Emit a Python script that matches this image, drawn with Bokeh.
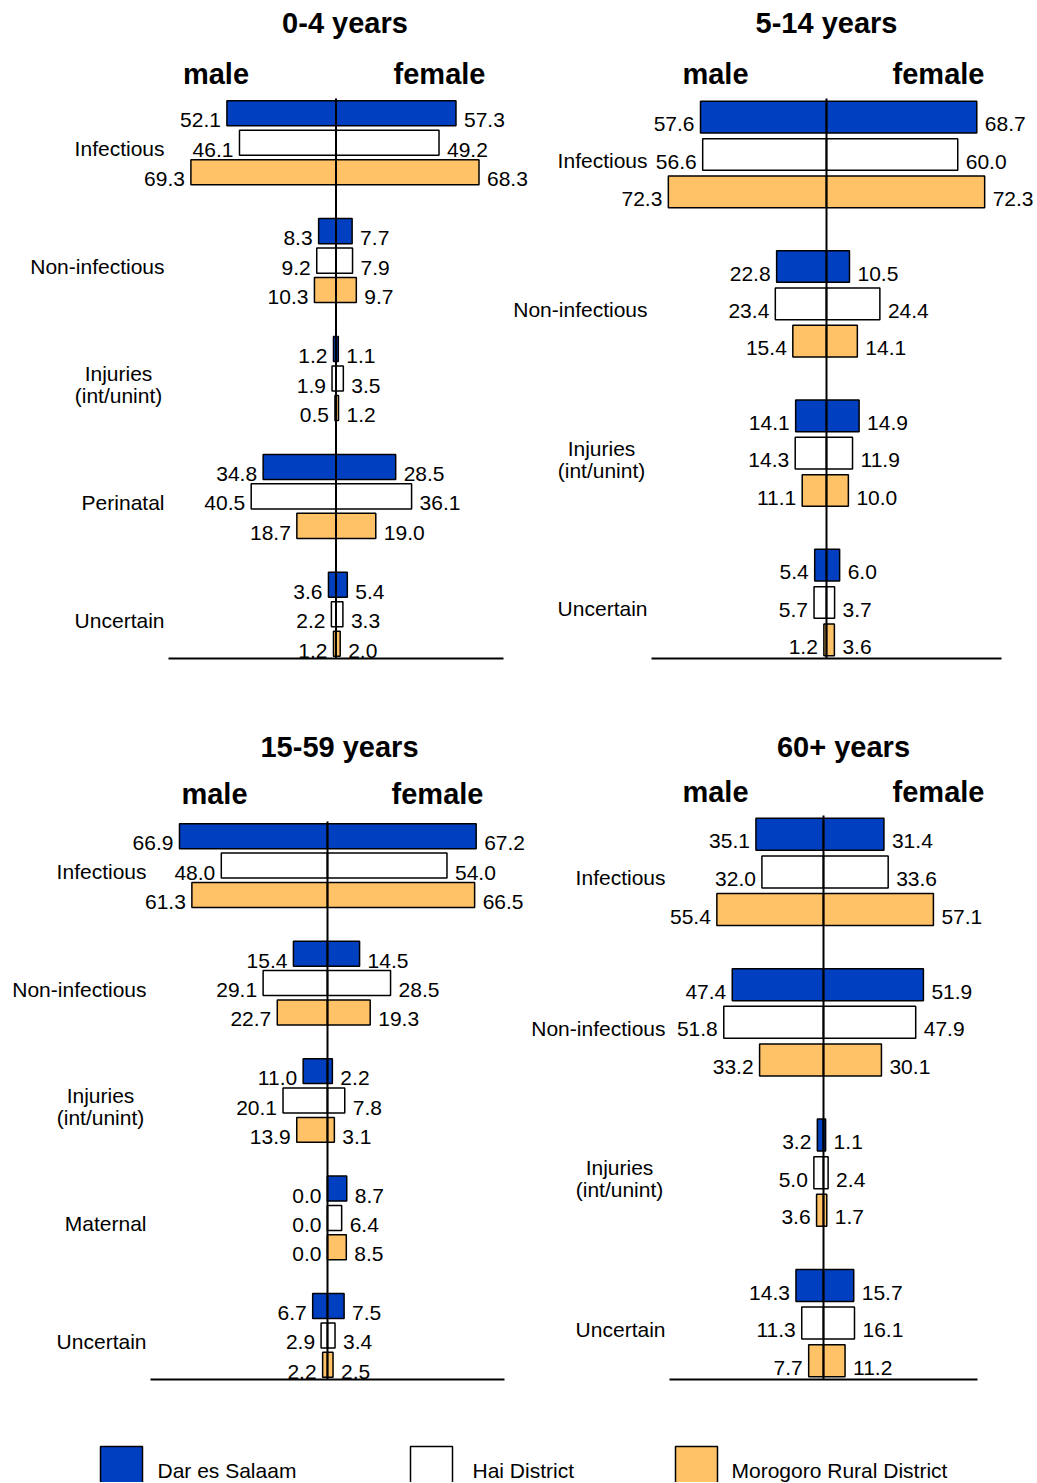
from bokeh.plotting import figure
from bokeh.models import Range1d, ColumnDataSource
from bokeh.embed import file_html
from bokeh.resources import INLINE
from bokeh.core.properties import value

# ---------------- data ----------------
DISTRICTS = ["Dar es Salaam", "Hai District", "Morogoro Rural District"]
COLORS = ["#0040C0", "#FFFFFF", "#FFC266"]
AGE_GROUPS = ["0-4 years", "5-14 years", "15-59 years", "60+ years"]
SEX_LABELS = ["male", "female"]

CAUSES_0_4 = ["Infectious", "Non-infectious", "Injuries\n(int/unint)", "Perinatal", "Uncertain"]
MALE_0_4 = [[52.1, 8.3, 1.2, 34.8, 3.6],
            [46.1, 9.2, 1.9, 40.5, 2.2],
            [69.3, 10.3, 0.5, 18.7, 1.2]]
FEMALE_0_4 = [[57.3, 7.7, 1.1, 28.5, 5.4],
              [49.2, 7.9, 3.5, 36.1, 3.3],
              [68.3, 9.7, 1.2, 19.0, 2.0]]

CAUSES_5_14 = ["Infectious", "Non-infectious", "Injuries\n(int/unint)", "Uncertain"]
MALE_5_14 = [[57.6, 22.8, 14.1, 5.4],
             [56.6, 23.4, 14.3, 5.7],
             [72.3, 15.4, 11.1, 1.2]]
FEMALE_5_14 = [[68.7, 10.5, 14.9, 6.0],
               [60.0, 24.4, 11.9, 3.7],
               [72.3, 14.1, 10.0, 3.6]]

CAUSES_15_59 = ["Infectious", "Non-infectious", "Injuries\n(int/unint)", "Maternal", "Uncertain"]
MALE_15_59 = [[66.9, 15.4, 11.0, 0.0, 6.7],
              [48.0, 29.1, 20.1, 0.0, 2.9],
              [61.3, 22.7, 13.9, 0.0, 2.2]]
FEMALE_15_59 = [[67.2, 14.5, 2.2, 8.7, 7.5],
                [54.0, 28.5, 7.8, 6.4, 3.4],
                [66.5, 19.3, 3.1, 8.5, 2.5]]

CAUSES_60 = ["Infectious", "Non-infectious", "Injuries\n(int/unint)", "Uncertain"]
MALE_60 = [[35.1, 47.4, 3.2, 14.3],
           [32.0, 51.8, 5.0, 11.3],
           [55.4, 33.2, 3.6, 7.7]]
FEMALE_60 = [[31.4, 51.9, 1.1, 15.7],
             [33.6, 47.9, 2.4, 16.1],
             [57.1, 30.1, 1.7, 11.2]]

PANEL_CAUSES = [CAUSES_0_4, CAUSES_5_14, CAUSES_15_59, CAUSES_60]
PANEL_MALE = [MALE_0_4, MALE_5_14, MALE_15_59, MALE_60]
PANEL_FEMALE = [FEMALE_0_4, FEMALE_5_14, FEMALE_15_59, FEMALE_60]

# ---------------- layout (page pixels) ----------------
W, H = 1036, 1482
ORIGIN = 0
AXIS_HALF = 80.0
BAR_HEIGHT = 0.85
FONT = value("Liberation Sans")

LAYOUT = [
    dict(center=335.5, half=167.5, top=98, bottom=658, title_x=344.5, title_y=22,
         male_x=215.5, female_x=439, sex_y=73),
    dict(center=826, half=175, top=98, bottom=658, title_x=826, title_y=22,
         male_x=715, female_x=938, sex_y=73),
    dict(center=327, half=177, top=821, bottom=1379, title_x=339, title_y=746,
         male_x=214, female_x=437, sex_y=793),
    dict(center=823, half=154, top=815, bottom=1379, title_x=843, title_y=746,
         male_x=715, female_x=938, sex_y=791),
]
LEGEND_BOX_LEFT = [100, 410, 675]
LEGEND_BOX_W = 42
LEGEND_BOX_TOP = 1446
LEGEND_TEXT_X = [157, 472, 731]
LEGEND_TEXT_Y = 1470

p = figure(width=W, height=H, output_backend="svg", toolbar_location=None,
           x_range=Range1d(0, W), y_range=Range1d(H, 0),
           x_axis_location=None, y_axis_location=None,
           min_border_left=0, min_border_right=0, min_border_top=0, min_border_bottom=0)
p.outline_line_color = None
p.background_fill_color = "white"
p.border_fill_color = "white"
p.xgrid.visible = False
p.ygrid.visible = False

extra_x, extra_y = {}, {}
panel_info = []
for i, L in enumerate(LAYOUT):
    causes = PANEL_CAUSES[i]
    s = L["half"] / AXIS_HALF
    cx = L["center"] - ORIGIN
    n_slots = 4 * len(causes) - 1
    slot = (L["bottom"] - L["top"]) / n_slots
    ty = L["top"] - ORIGIN
    extra_x[f"x{i}"] = Range1d(-cx / s, (W - cx) / s)
    extra_y[f"y{i}"] = Range1d(-0.5 + (H - ty) / slot, -0.5 - ty / slot)
    panel_info.append((s, slot, n_slots))
p.extra_x_ranges = extra_x
p.extra_y_ranges = extra_y

for i, L in enumerate(LAYOUT):
    s, slot, n_slots = panel_info[i]
    xn, yn = f"x{i}", f"y{i}"
    causes = PANEL_CAUSES[i]
    rk = dict(x_range_name=xn, y_range_name=yn)

    def xd(px):
        return (px - L["center"]) / s

    def yd(py):
        return -0.5 + (py - L["top"]) / slot

    for d in range(len(DISTRICTS)):
        male = PANEL_MALE[i][d]
        female = PANEL_FEMALE[i][d]
        src = ColumnDataSource(dict(
            y=[4 * g + d for g in range(len(causes))],
            male=[-v for v in male],
            female=female,
            mlab=[f"{v:.1f}" for v in male],
            flab=[f"{v:.1f}" for v in female],
        ))
        p.hbar(y="y", left="male", right=0, height=BAR_HEIGHT, source=src,
               fill_color=COLORS[d], line_color="black", line_width=1.5, **rk)
        p.hbar(y="y", left=0, right="female", height=BAR_HEIGHT, source=src,
               fill_color=COLORS[d], line_color="black", line_width=1.5, **rk)
        p.text(x="male", y="y", text="mlab", source=src, text_align="right",
               text_baseline="middle", x_offset=-6, y_offset=7, text_font=FONT,
               text_font_size="21px", text_color="black", **rk)
        p.text(x="female", y="y", text="flab", source=src, text_align="left",
               text_baseline="middle", x_offset=8, y_offset=7, text_font=FONT,
               text_font_size="21px", text_color="black", **rk)

    # centre line and baseline
    p.segment(x0=[0], y0=[-0.5], x1=[0], y1=[n_slots - 0.5], line_color="black", line_width=2, **rk)
    p.segment(x0=[-AXIS_HALF], y0=[n_slots - 0.5], x1=[AXIS_HALF], y1=[n_slots - 0.5],
              line_color="black", line_width=2, **rk)

    # category labels
    single = [(c, 4 * g + 1) for g, c in enumerate(causes) if "\n" not in c]
    multi = [(c, 4 * g + 1) for g, c in enumerate(causes) if "\n" in c]
    if single:
        p.text(x=[-AXIS_HALF] * len(single), y=[v for _, v in single], text=[c for c, _ in single],
               text_align="right", text_baseline="middle", x_offset=-4, y_offset=6,
               text_font=FONT, text_font_size="21px", text_color="black", **rk)
    if multi:
        p.text(x=[-AXIS_HALF] * len(multi), y=[v for _, v in multi], text=[c for c, _ in multi],
               text_align="center", text_baseline="middle", x_offset=-50, y_offset=6,
               text_font=FONT, text_font_size="21px", text_color="black",
               text_line_height=0.95, **rk)

    # title and sex headers
    p.text(x=[xd(L["title_x"])], y=[yd(L["title_y"])], text=[AGE_GROUPS[i]],
           text_align="center", text_baseline="middle", text_font=FONT,
           text_font_size="29px", text_font_style="bold", text_color="black", **rk)
    p.text(x=[xd(L["male_x"]), xd(L["female_x"])], y=[yd(L["sex_y"])] * 2, text=SEX_LABELS,
           text_align="center", text_baseline="middle", text_font=FONT,
           text_font_size="29px", text_font_style="bold", text_color="black", **rk)

# legend (canvas pixel ranges)
lsrc = ColumnDataSource(dict(
    left=[v - ORIGIN for v in LEGEND_BOX_LEFT],
    right=[v - ORIGIN + LEGEND_BOX_W for v in LEGEND_BOX_LEFT],
    top=[LEGEND_BOX_TOP - ORIGIN] * 3,
    bottom=[H + 20] * 3,
    color=COLORS,
    tx=[v - ORIGIN for v in LEGEND_TEXT_X],
    ty=[LEGEND_TEXT_Y - ORIGIN] * 3,
    label=DISTRICTS,
))
p.quad(left="left", right="right", top="top", bottom="bottom", fill_color="color",
       line_color="black", line_width=1.5, source=lsrc)
p.text(x="tx", y="ty", text="label", source=lsrc, text_align="left", text_baseline="middle",
       text_font=FONT, text_font_size="21px", text_color="black")

open("out.html", "w").write(file_html(p, INLINE))
